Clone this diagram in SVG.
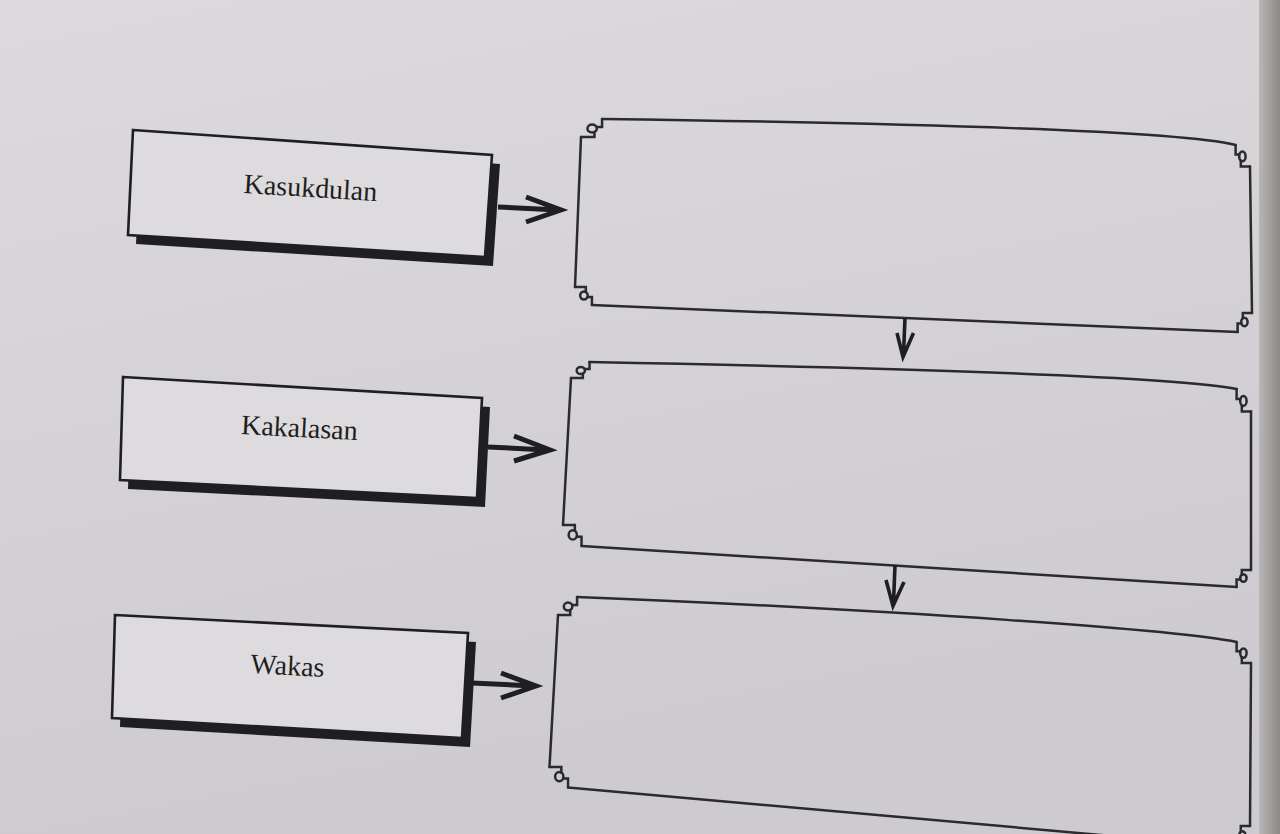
<svg xmlns="http://www.w3.org/2000/svg" xmlns:xlink="http://www.w3.org/1999/xlink" width="1280" height="834" viewBox="0 0 1280 834">
<style>
.edge{fill:none;stroke:#2b2a2c;stroke-width:2.5;stroke-linecap:round}
.lbl{fill:#dddbde;stroke:#1f1e20;stroke-width:2.6;stroke-linejoin:miter}
.shd{fill:#1f1e20}
.txt{font-family:"Liberation Serif","Times New Roman",serif;font-size:28px;fill:#1f1e20;text-anchor:middle}
.arr{fill:none;stroke:#1f1e20;stroke-width:5;stroke-linecap:butt;stroke-linejoin:miter}
.varr{fill:none;stroke:#1f1e20;stroke-width:3.6;stroke-linecap:butt;stroke-linejoin:miter}
</style>
<defs>
<linearGradient id="paper" x1="0" y1="0" x2="0.3" y2="1">
<stop offset="0" stop-color="#dcdadd"/>
<stop offset="1" stop-color="#cdcbcf"/>
</linearGradient>
<linearGradient id="edgeg" x1="0" y1="0" x2="1" y2="0">
<stop offset="0" stop-color="#b9b6b7"/>
<stop offset="1" stop-color="#8d8985"/>
</linearGradient>
<g id="orn">
<path class="edge" d="M18,0 V8 H13.5 M11.5,13 V18 H0" vector-effect="non-scaling-stroke"/>
<circle class="edge" cx="9.5" cy="9.5" r="4" vector-effect="non-scaling-stroke"/>
</g>
</defs>
<rect x="0" y="0" width="1280" height="834" fill="url(#paper)"/>
<rect x="1259" y="0" width="21" height="834" fill="url(#edgeg)"/>

<g id="label-kasukdulan">
<polygon class="shd" points="141,139 500,164 493,266 136,244"/>
<polygon class="lbl" points="133,130 492,155 485,257 128,235"/>
<text class="txt" x="310" y="197" transform="rotate(3.5 310 197)">Kasukdulan</text>
</g>
<g id="label-kakalasan">
<polygon class="shd" points="131,386 490,407 485,507 128,489"/>
<polygon class="lbl" points="123,377 482,398 477,498 120,480"/>
<text class="txt" x="299" y="437" transform="rotate(3 299 437)">Kakalasan</text>
</g>
<g id="label-wakas">
<polygon class="shd" points="123,624 476,642 470,747 120,727"/>
<polygon class="lbl" points="115,615 468,633 462,738 112,718"/>
<text class="txt" x="287" y="675" transform="rotate(3 287 675)">Wakas</text>
</g>

<g id="box-1">
<use xlink:href="#orn" href="#orn" transform="translate(581,119) scale(1.17,1)"/>
<use xlink:href="#orn" href="#orn" transform="translate(1250,145) scale(-0.8,1.2)"/>
<use xlink:href="#orn" href="#orn" transform="translate(1252,332) scale(-0.8,-1.05)"/>
<use xlink:href="#orn" href="#orn" transform="translate(575,305) scale(0.94,-1)"/>
<path class="edge" d="M602,119 C900,123 1180,131 1235.6,145"/>
<path class="edge" d="M581,137 L575,287"/>
<path class="edge" d="M1250,166.6 L1252,313.1"/>
<path class="edge" d="M591.9,305 L1237.6,332"/>
</g>
<g id="box-2">
<use xlink:href="#orn" href="#orn" transform="translate(571,362) scale(1.03,0.89)"/>
<use xlink:href="#orn" href="#orn" transform="translate(1251,389) scale(-0.8,1.25)"/>
<use xlink:href="#orn" href="#orn" transform="translate(1251,587) scale(-0.8,-0.94)"/>
<use xlink:href="#orn" href="#orn" transform="translate(563,546) scale(1.03,-1.17)"/>
<path class="edge" d="M589.5,362 C900,368 1180,377 1236.6,389"/>
<path class="edge" d="M571,378 L563,525"/>
<path class="edge" d="M1251,411.5 L1251,570"/>
<path class="edge" d="M581.5,546 L1236.6,587"/>
</g>
<g id="box-3">
<use xlink:href="#orn" href="#orn" transform="translate(558,597) scale(1.06,1)"/>
<use xlink:href="#orn" href="#orn" transform="translate(1251,642) scale(-0.8,1.17)"/>
<use xlink:href="#orn" href="#orn" transform="translate(1250,847) scale(-0.8,-1.17)"/>
<use xlink:href="#orn" href="#orn" transform="translate(549.5,787.5) scale(1.03,-1.14)"/>
<path class="edge" d="M577,597 C900,610 1180,630 1236.6,642"/>
<path class="edge" d="M558,615 L549.5,767"/>
<path class="edge" d="M1251,663 L1250,826"/>
<path class="edge" d="M568,787.5 L1235.6,847"/>
</g>

<g id="connectors">
<path class="arr" d="M498,207 L558,210 M526,197 L561,210 L526,222"/>
<path class="arr" d="M488,447 L547,450 M514,436 L550,450 L514,461"/>
<path class="arr" d="M472,683 L533,686 M501,673 L536,686 L501,698"/>
<path class="varr" d="M905,318 L903.5,354 M897,333 L903,357 L913.5,333"/>
<path class="varr" d="M895,565 L893.5,603 M886,580 L893,606 L904,582"/>
</g>
</svg>
